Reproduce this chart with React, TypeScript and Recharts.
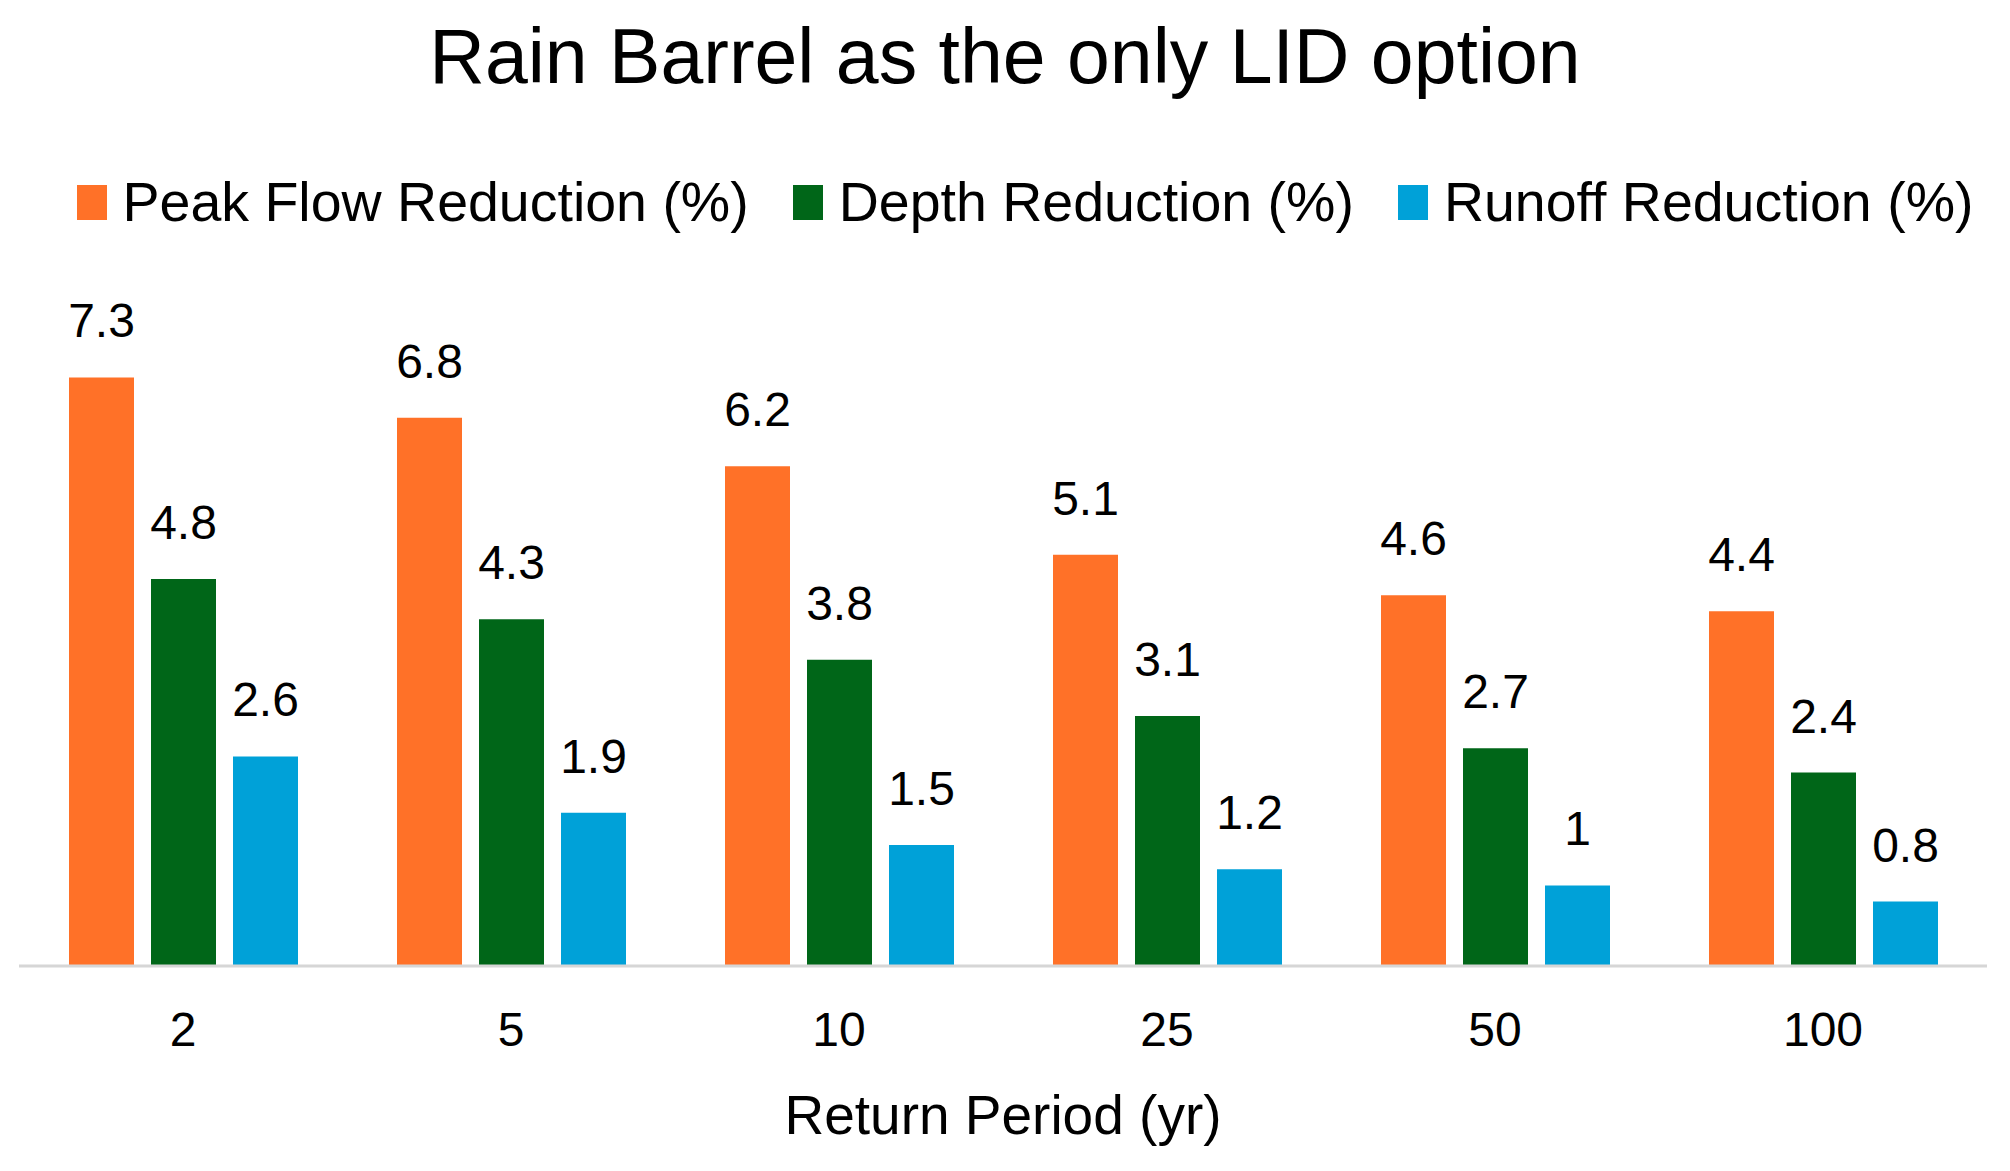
import { Bar, BarChart, LabelList, Legend, XAxis, YAxis } from "recharts";

const periods = ["2", "5", "10", "25", "50", "100"];
const peakFlow = [7.3, 6.8, 6.2, 5.1, 4.6, 4.4];
const depth = [4.8, 4.3, 3.8, 3.1, 2.7, 2.4];
const runoff = [2.6, 1.9, 1.5, 1.2, 1, 0.8];

const series = [
  { key: "peak", name: "Peak Flow Reduction (%)", color: "#ff7128" },
  { key: "depth", name: "Depth Reduction (%)", color: "#006618" },
  { key: "runoff", name: "Runoff Reduction (%)", color: "#00a1d8" }
];

const data = periods.map((p, i) => ({ period: p, peak: peakFlow[i], depth: depth[i], runoff: runoff[i] }));

const font = "'Liberation Sans', Arial, sans-serif";

function LegendRow() {
  return (
    <div style={{ display: "flex", justifyContent: "center", alignItems: "center", height: 60, gap: 44, fontFamily: font, fontSize: 55.5, color: "#000" }}>
      {series.map((s) => (
        <div key={s.key} style={{ display: "flex", alignItems: "center", gap: 16, whiteSpace: "nowrap" }}>
          <span style={{ width: 30, height: 35, background: s.color, display: "inline-block" }} />
          <span>{s.name}</span>
        </div>
      ))}
    </div>
  );
}

export default function App() {
  return (
    <div style={{ position: "absolute", left: 0, top: 0, width: 2010, height: 1171, background: "#fff" }}>
      <div style={{ position: "absolute", left: 0, width: 2010, top: 12, textAlign: "center", fontFamily: font, fontSize: 77, color: "#000" }}>
        Rain Barrel as the only LID option
      </div>
      <BarChart width={2010} height={1171} data={data} margin={{ top: 261, right: 23, bottom: 0, left: 19 }} barSize={65} barGap={17}>
        <XAxis
          dataKey="period"
          height={205}
          tickLine={false}
          tickSize={0}
          tickMargin={46}
          axisLine={{ stroke: "#d6d6d6", strokeWidth: 3 }}
          tick={{ fill: "#000", fontSize: 48, fontFamily: font }}
          label={{ value: "Return Period (yr)", position: "insideBottom", offset: 37, fill: "#000", fontSize: 55, fontFamily: font }}
        />
        <YAxis hide domain={[0, 8]} />
        <Legend verticalAlign="top" content={() => <LegendRow />} wrapperStyle={{ top: 172, left: 50, width: 1950 }} />
        {series.map((s) => (
          <Bar key={s.key} dataKey={s.key} name={s.name} fill={s.color} isAnimationActive={false}>
            <LabelList dataKey={s.key} position="top" offset={40} fill="#000" fontSize={48} fontFamily={font} />
          </Bar>
        ))}
      </BarChart>
    </div>
  );
}
